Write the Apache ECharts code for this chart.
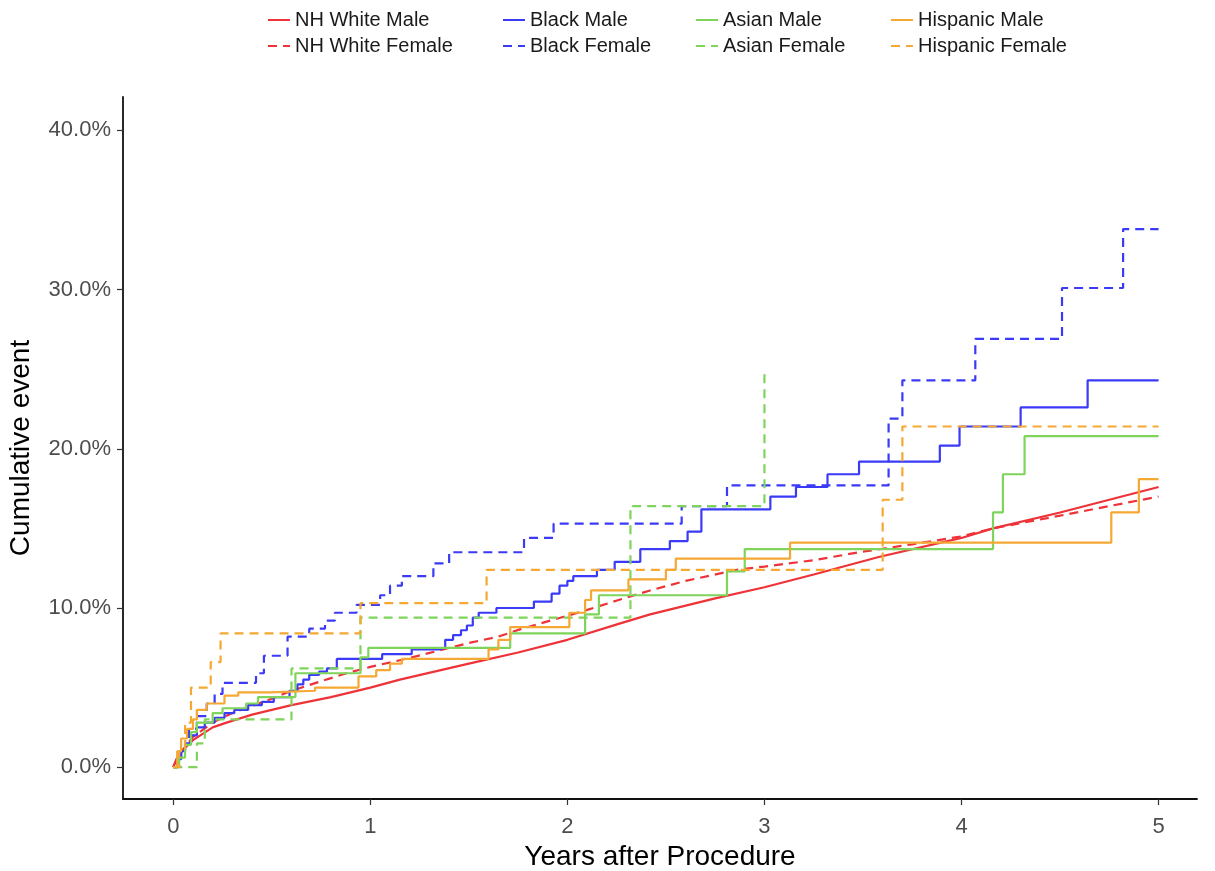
<!DOCTYPE html>
<html><head><meta charset="utf-8">
<script src="https://cdn.jsdelivr.net/npm/echarts@6/dist/echarts.min.js"></script>
<style>html,body{margin:0;padding:0;background:#fff}#c{width:1215px;height:871px}</style>
</head><body><div id="c"></div>
<script>
// ---- data (years, cumulative event %) ----
const xTicks = [0, 1, 2, 3, 4, 5];
const yTicks = [0, 10, 20, 30, 40];

const wmT = [0, 0.02, 0.05, 0.1, 0.2, 0.27, 0.4, 0.6, 0.8, 1.0, 1.15, 1.5, 1.75, 2.0, 2.26, 2.42, 2.75, 3.0, 3.25, 3.58, 4.0, 4.16, 4.5, 4.75, 5.0];
const wmV = [0, 0.6, 1.1, 1.7, 2.5, 2.8, 3.3, 3.9, 4.4, 5.0, 5.5, 6.5, 7.2, 8.0, 9.0, 9.6, 10.6, 11.3, 12.1, 13.2, 14.4, 15.0, 16.0, 16.8, 17.6];

const wfT = [0, 0.02, 0.05, 0.1, 0.2, 0.3, 0.5, 0.6, 0.75, 0.88, 1.0, 1.18, 1.5, 1.65, 1.77, 2.08, 2.26, 2.42, 2.6, 2.86, 3.0, 3.25, 3.48, 3.75, 4.0, 4.16, 4.5, 4.75, 5.0];
const wfV = [0, 0.6, 1.1, 1.9, 2.8, 3.4, 4.3, 4.8, 5.4, 5.9, 6.3, 6.8, 7.8, 8.2, 8.7, 9.8, 10.5, 11.1, 11.7, 12.4, 12.6, 13.0, 13.5, 14.0, 14.5, 15.0, 15.8, 16.4, 17.0];

const bmT = [0, 0.02, 0.04, 0.06, 0.09, 0.12, 0.16, 0.21, 0.26, 0.31, 0.38, 0.45, 0.51, 0.59, 0.63, 0.66, 0.69, 0.74, 0.78, 0.83, 1.06, 1.21, 1.35, 1.38, 1.42, 1.46, 1.49, 1.52, 1.55, 1.64, 1.83, 1.92, 1.96, 2.0, 2.03, 2.15, 2.24, 2.37, 2.52, 2.61, 2.68, 3.03, 3.16, 3.32, 3.48, 3.89, 3.99, 4.30, 4.64, 5.0];
const bmV = [0, 0.5, 1.0, 1.5, 2.0, 2.5, 2.8, 3.1, 3.4, 3.6, 3.9, 4.1, 4.4, 4.8, 5.2, 5.5, 5.8, 6.0, 6.2, 6.8, 7.1, 7.4, 7.5, 8.0, 8.3, 8.6, 8.9, 9.4, 9.7, 10.0, 10.4, 10.9, 11.4, 11.7, 12.0, 12.4, 12.9, 13.7, 14.2, 14.8, 16.2, 17.0, 17.6, 18.4, 19.2, 20.2, 21.4, 22.6, 24.3, 24.3];

const bfT = [0, 0.02, 0.04, 0.06, 0.08, 0.12, 0.17, 0.21, 0.25, 0.42, 0.46, 0.58, 0.69, 0.77, 0.82, 0.93, 1.05, 1.1, 1.16, 1.32, 1.40, 1.78, 1.93, 2.58, 2.81, 3.63, 3.70, 4.07, 4.51, 4.82, 5.0];
const bfV = [0, 0.6, 1.2, 1.8, 2.4, 3.2, 4.0, 4.6, 5.3, 5.9, 7.0, 8.2, 8.7, 9.2, 9.7, 10.2, 10.8, 11.4, 12.0, 12.8, 13.5, 14.4, 15.3, 16.4, 17.7, 21.9, 24.3, 26.9, 30.1, 33.8, 33.8];

const amT = [0, 0.03, 0.06, 0.09, 0.12, 0.2, 0.25, 0.37, 0.43, 0.62, 0.95, 0.99, 1.71, 2.09, 2.16, 2.81, 2.90, 4.16, 4.21, 4.32, 5.0];
const amV = [0, 0.6, 1.4, 2.2, 2.8, 3.4, 3.7, 4.0, 4.4, 5.9, 6.9, 7.5, 8.4, 9.6, 10.8, 12.3, 13.7, 16.0, 18.4, 20.8, 20.8];

const afT = [0, 0.12, 0.16, 0.60, 0.95, 2.32, 3.0];
const afV = [0, 1.5, 3.0, 6.2, 9.4, 16.4, 24.8];

const hmT = [0, 0.02, 0.04, 0.07, 0.1, 0.12, 0.17, 0.26, 0.33, 0.49, 0.72, 0.94, 1.03, 1.1, 1.16, 1.6, 1.65, 1.71, 2.01, 2.09, 2.12, 2.31, 2.50, 2.55, 3.13, 4.76, 4.90, 5.0];
const hmV = [0, 1.0, 1.8, 2.4, 3.0, 3.6, 4.0, 4.5, 4.7, 4.8, 5.0, 5.7, 6.1, 6.5, 6.8, 7.4, 8.0, 8.8, 9.7, 10.5, 11.1, 11.8, 12.4, 13.1, 14.1, 16.0, 18.1, 18.1];

const hfT = [0, 0.03, 0.06, 0.09, 0.19, 0.24, 0.95, 1.59, 3.60, 3.70, 5.0];
const hfV = [0, 1.0, 2.8, 5.0, 6.6, 8.4, 10.3, 12.4, 16.8, 21.4, 21.4];

const names = ['NH White Male','NH White Female','Black Male','Black Female','Asian Male','Asian Female','Hispanic Male','Hispanic Female'];
// ---- styling ----
const RED = '#EE3338', BLUE = '#3A3AF7', GREEN = '#7FD45B', ORANGE = '#F5A833';
const FONT = 'Liberation Sans, Arial, sans-serif';
const zip = (t, v) => t.map((x, i) => [x, v[i]]);

function mk(name, t, v, color, dashed, step) {
  return {
    name, type: 'line', data: zip(t, v), step: step ? 'end' : false,
    symbol: 'none', silent: true, animation: false,
    lineStyle: { color, width: 2.2, type: dashed ? [9, 6] : 'solid' },
    itemStyle: { color }
  };
}

const series = [
  mk(names[0], wmT, wmV, RED, false, false),
  mk(names[1], wfT, wfV, RED, true, false),
  mk(names[2], bmT, bmV, BLUE, false, true),
  mk(names[3], bfT, bfV, BLUE, true, true),
  mk(names[4], amT, amV, GREEN, false, true),
  mk(names[5], afT, afV, GREEN, true, true),
  mk(names[6], hmT, hmV, ORANGE, false, true),
  mk(names[7], hfT, hfV, ORANGE, true, true)
];

const legendCols = [262, 497, 690, 885];
const legend = legendCols.map((left, i) => ({
  data: [names[2 * i], names[2 * i + 1]],
  left, top: 5, orient: 'vertical', itemGap: 6,
  itemWidth: 22, itemHeight: 14, selectedMode: false,
  itemStyle: { opacity: 0 },
  textStyle: { fontSize: 20, color: '#1a1a1a', fontFamily: FONT }
}));

const chart = echarts.init(document.getElementById('c'), null, { renderer: 'canvas' });
chart.setOption({
  animation: false,
  backgroundColor: '#fff',
  legend,
  grid: { left: 123, right: 18, top: 97, bottom: 72, containLabel: false, outerBoundsMode: 'none' },
  xAxis: {
    type: 'value', min: -0.255, max: 5.195,
    splitLine: { show: false },
    axisLine: { show: true, onZero: false, lineStyle: { color: '#111', width: 1.8 } },
    axisTick: { show: true, customValues: xTicks, length: 6, lineStyle: { color: '#333', width: 1.2 } },
    axisLabel: { customValues: xTicks, fontSize: 22, color: '#4d4d4d', margin: 17, fontFamily: FONT },
    name: 'Years after Procedure', nameLocation: 'middle', nameGap: 44,
    nameTextStyle: { fontSize: 28, color: '#000', fontFamily: FONT }
  },
  yAxis: {
    type: 'value', min: -2, max: 42.1,
    splitLine: { show: false },
    axisLine: { show: true, onZero: false, lineStyle: { color: '#111', width: 1.8 } },
    axisTick: { show: true, customValues: yTicks, length: 6, lineStyle: { color: '#333', width: 1.2 } },
    axisLabel: { customValues: yTicks, fontSize: 22, color: '#4d4d4d', margin: 12, fontFamily: FONT,
      formatter: v => v.toFixed(1) + '%' },
    name: 'Cumulative event', nameLocation: 'middle', nameGap: 88, nameRotate: 90,
    nameTextStyle: { fontSize: 28, color: '#000', fontFamily: FONT }
  },
  series
});
</script>
</body></html>
